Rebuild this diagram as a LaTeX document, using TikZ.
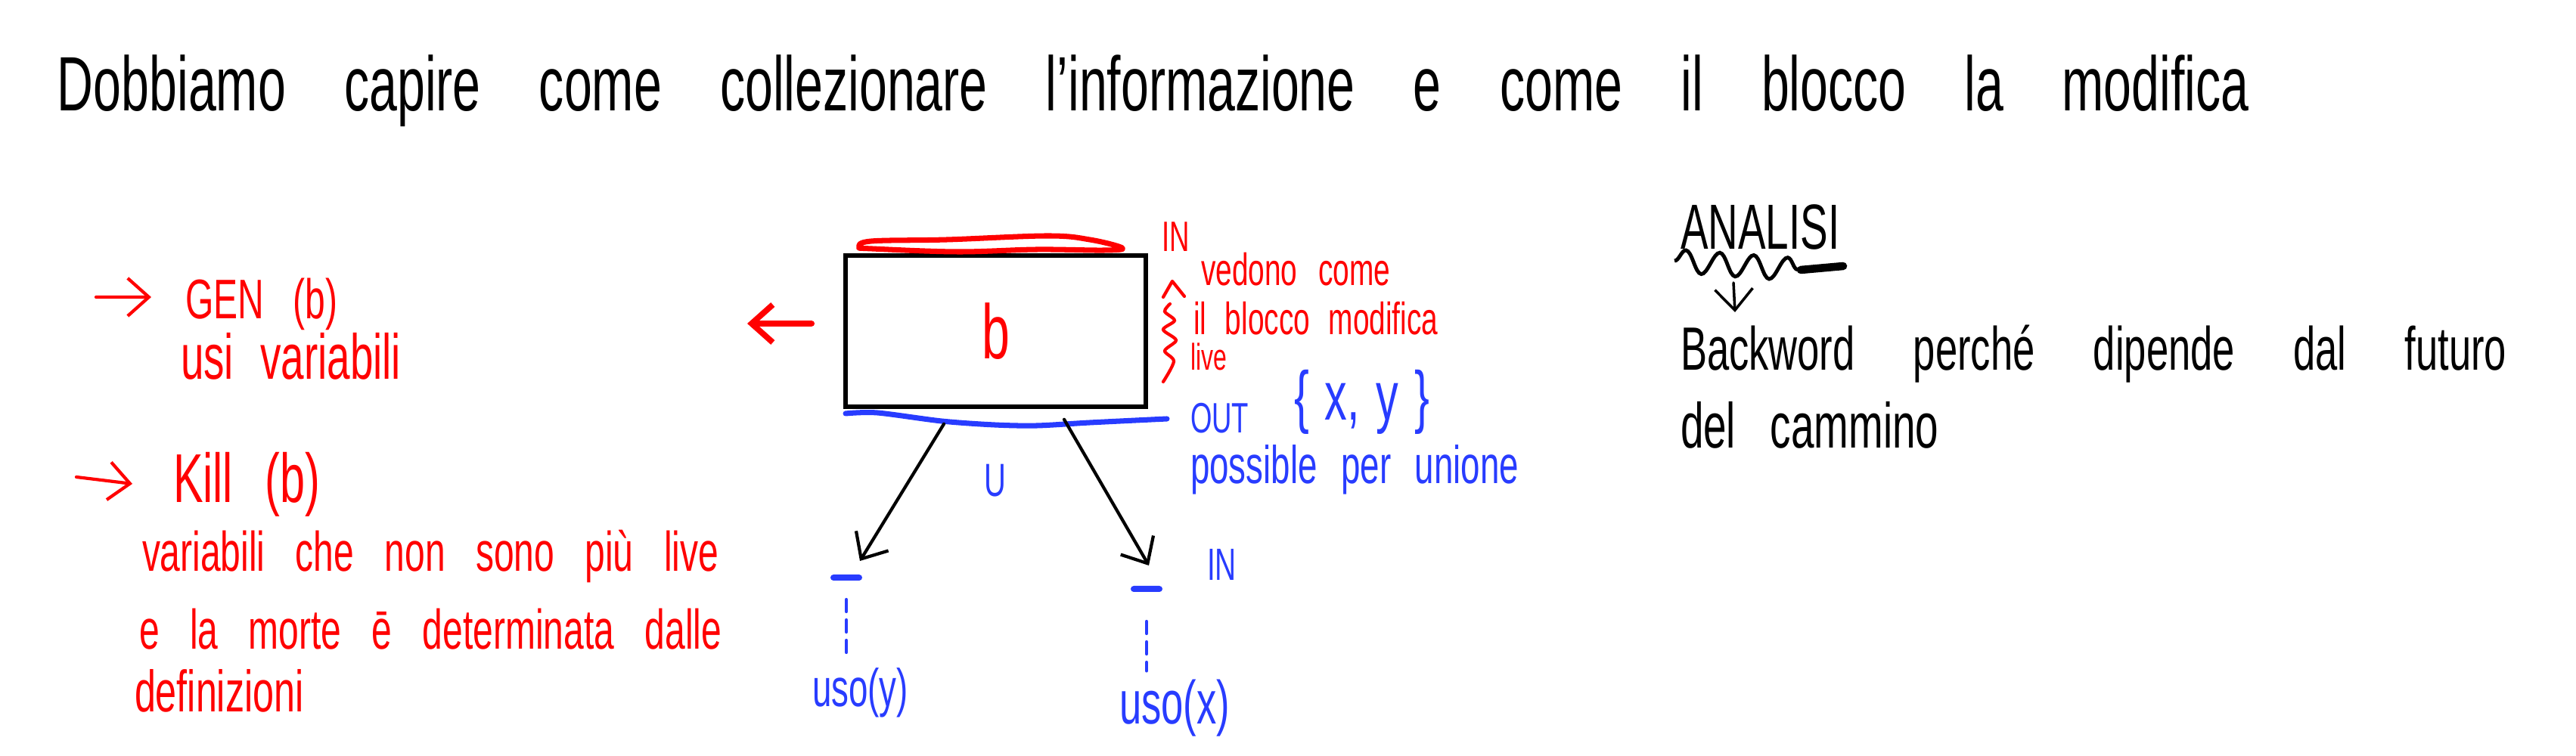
\documentclass[tikz,border=0pt]{standalone}
\usepackage{fontspec}
\setmainfont{Liberation Sans}[FakeStretch=0.65]
\usetikzlibrary{positioning, arrows.meta, calc, decorations.pathmorphing}
\definecolor{inkred}{RGB}{255,0,0}
\definecolor{inkblue}{RGB}{40,60,255}

\begin{document}
\begin{tikzpicture}[
    hand/.style={
        anchor=base west,
        inner sep=0pt,
        outer sep=0pt
    },
    wordgap/.style={
        execute at begin node={\spaceskip=#1\relax}
    },
    title/.style={
        hand,
        wordgap=22pt,
        font=\fontsize{29}{34}\selectfont
    },
    rednote/.style={
        hand,
        text=inkred
    },
    bluenote/.style={
        hand,
        text=inkblue
    },
    arrow/.style={
        -{Straight Barb[length=2.8mm,width=5mm]},
        line width=1.2pt,
        line cap=round
    },
    redarrow/.style={
        arrow,
        draw=inkred
    },
    block/.style={
        rectangle,
        draw,
        line width=1.6pt,
        minimum width=3.97cm,
        minimum height=2cm,
        inner sep=0pt,
        text=inkred,
        font=\fontsize{29}{34}\selectfont
    },
    bar/.style={
        rectangle,
        fill=inkblue,
        minimum width=4.2mm,
        minimum height=0.8mm,
        inner sep=0pt,
        rounded corners=0.4mm
    },
    dots/.style={
        draw=inkblue,
        line width=1.2pt,
        dash pattern=on 1.6mm off 1.1mm,
        line cap=round
    }
]

    \useasboundingbox (0,0) rectangle (34.06,-10);

    % Title
    \node[title] (title) at (0.76,-1.47) {Dobbiamo capire come collezionare l'informazione e come il blocco la modifica};

    % GEN / KILL
    \coordinate (genstart) at (1.27,-3.93);
    \node[rednote, wordgap=11pt, font=\fontsize{21}{25}\selectfont] (gen) at (2.45,-4.22) {GEN (b)};
    \node[rednote, wordgap=10pt, font=\fontsize{24}{28}\selectfont] (usi) at (2.39,-5.02) {usi variabili};
    \draw[redarrow] (genstart) -- ([xshift=-4.5mm,yshift=2.9mm]gen.base west);

    \coordinate (killstart) at (1.01,-6.31);
    \node[rednote, wordgap=12pt, font=\fontsize{26}{30}\selectfont] (kill) at (2.29,-6.65) {Kill (b)};
    \draw[redarrow] (killstart) -- ([xshift=-5.4mm,yshift=2.5mm]kill.base west);
    \node[rednote, wordgap=11.5pt, font=\fontsize{21}{25}\selectfont] (kill1) at (1.88,-7.56) {variabili che non sono più live};
    \node[rednote, wordgap=11.5pt, font=\fontsize{21}{25}\selectfont] (kill2) at (1.84,-8.59) {e la morte ē determinata dalle};
    \node[rednote, font=\fontsize{22}{26}\selectfont] (kill3) at (1.78,-9.42) {definizioni};

    % Block
    \node[block] (blk) at (13.165,-4.38) {b};
    \coordinate (leftout) at (9.88,-4.28);
    \draw[redarrow, line width=2.2pt] ([xshift=-4.2mm,yshift=1mm]blk.west) -- (leftout);

    % IN side
    \draw[inkred, line width=2pt, line join=round] plot[smooth cycle, tension=0.6] coordinates {(11.36,-3.27) (11.52,-3.19) (12.52,-3.17) (13.85,-3.12) (14.41,-3.17) (14.84,-3.28) (14.6,-3.31) (13.71,-3.30) (12.66,-3.33) (11.53,-3.29)};
    \node[rednote, font=\fontsize{16}{19}\selectfont] (inr) at (15.36,-3.33) {IN};
    \node[rednote, wordgap=8pt, font=\fontsize{17}{20}\selectfont] (ved) at (15.88,-3.78) {vedono come};
    \node[rednote, wordgap=7pt, font=\fontsize{17}{20}\selectfont] (mod) at (15.78,-4.43) {il blocco modifica};
    \node[rednote, font=\fontsize{14}{17}\selectfont] (live) at (15.74,-4.90) {live};
    \draw[inkred, line width=1.2pt, line cap=round, line join=round] (15.38,-3.93) -- (15.50,-3.72) -- (15.66,-3.92);
    \draw[inkred, line width=1.2pt, line cap=round] plot[smooth] coordinates {(15.47,-4.02) (15.40,-4.12) (15.53,-4.24) (15.38,-4.36) (15.55,-4.50) (15.40,-4.64) (15.52,-4.78) (15.38,-5.05)};

    % OUT side
    \draw[inkblue, line width=2pt, line cap=round] plot[smooth] coordinates {(11.18,-5.47) (11.60,-5.46) (12.45,-5.57) (13.15,-5.62) (13.71,-5.63) (14.41,-5.59) (15.43,-5.54)};
    \node[bluenote, font=\fontsize{16}{19}\selectfont] (out) at (15.74,-5.73) {OUT};
    \node[bluenote, wordgap=6pt, font=\fontsize{26}{30}\selectfont] (xy) at (17.11,-5.56) {\{ x, y \}};
    \node[bluenote, wordgap=9pt, font=\fontsize{20}{24}\selectfont] (unione) at (15.74,-6.40) {possible per unione};
    \node[bluenote, anchor=base, font=\fontsize{17.5}{21}\selectfont] (cup) at (13.16,-6.57) {U};

    % Successors
    \node[bar] (dashy) at (11.19,-7.64) {};
    \node[bar] (dashx) at (15.16,-7.79) {};
    \node[bluenote, font=\fontsize{17}{20}\selectfont] (inb) at (15.96,-7.68) {IN};
    \draw[arrow] ([xshift=-6.85mm,yshift=-2mm]blk.south) -- ([xshift=1.8mm,yshift=2.2mm]dashy.center);
    \draw[arrow] ([xshift=9.05mm,yshift=-1.4mm]blk.south) -- ([xshift=0.3mm,yshift=3.1mm]dashx.center);

    \node[bluenote, font=\fontsize{20}{24}\selectfont] (usey) at (10.74,-9.35) {uso(y)};
    \node[bluenote, font=\fontsize{23}{27}\selectfont] (usex) at (14.80,-9.58) {uso(x)};
    \draw[dots] ([yshift=-2.9mm]dashy.center) -- ($(dashy.center |- usey.north)+(0,0.17)$);
    \draw[dots] ([yshift=-4.3mm]dashx.center) -- ($(dashx.center |- usex.north)+(0,0.12)$);

    % Analisi
    \node[hand, font=\fontsize{24}{28}\selectfont] (an) at (22.22,-3.30) {ANALISI};
    \draw[decorate, decoration={snake, amplitude=1.5mm, segment length=4.5mm}, line width=1.4pt] ($(an.base west)+(-0.08,-0.15)$) -- ++(1.67,-0.12);
    \draw[line width=3pt, line cap=round] ($(an.base west)+(1.59,-0.27)$) -- ($(an.base west)+(2.15,-0.22)$);
    \draw[arrow, line width=1pt] ($(an.base west)+(0.70,-0.44)$) -- ($(an.base west)+(0.72,-0.83)$);
    \node[hand, wordgap=22pt, font=\fontsize{23}{27}\selectfont] (bw) at (22.22,-4.90) {Backword perché dipende dal futuro};
    \node[hand, wordgap=13pt, font=\fontsize{24}{28}\selectfont] (cam) at (22.22,-5.93) {del cammino};

\end{tikzpicture}
\end{document}
